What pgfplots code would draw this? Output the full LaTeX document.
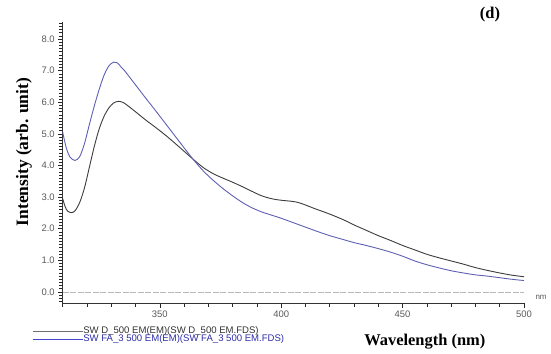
\documentclass[border=0pt]{standalone}
\usepackage{fontspec}
\setmainfont{Liberation Serif}
\setsansfont{Liberation Sans}
\usepackage{pgfplots}
\pgfplotsset{compat=1.18}
\definecolor{curveK}{RGB}{60,60,60}
\definecolor{curveB}{RGB}{95,95,180}
\definecolor{legK}{RGB}{110,110,110}
\definecolor{legB}{RGB}{70,70,210}
\definecolor{txtK}{RGB}{50,50,50}
\definecolor{txtB}{RGB}{45,45,170}
\begin{document}
\begin{tikzpicture}
\useasboundingbox (-62.7bp,-50.7bp) rectangle (488.3bp,303.3bp);
\begin{axis}[
  scale only axis, width=461.3bp, height=281.3bp,
  xmin=310, xmax=500, ymin=-0.36, ymax=8.54,
  axis lines*=left,
  axis line style={color=black!80, line width=0.6bp},
  clip=false,
  xtick={350,400,450,500}, minor xtick={310,320,...,500},
  ytick={0,1,...,8}, minor ytick={-0.3,-0.2,...,8.5},
  tick align=outside,
  major tick length=4.5bp, minor tick length=3.5bp,
  tick style={color=black!85, line width=0.6bp},
  /pgf/number format/assume math mode=true,
  ticklabel style={font=\sffamily\fontsize{9.5}{10}\selectfont, text=black!65},
  yticklabel style={/pgf/number format/fixed, /pgf/number format/fixed zerofill, /pgf/number format/precision=1},
  xticklabel style={/pgf/number format/1000 sep={}},
  xlabel={Wavelength (nm)},
  ylabel={Intensity (arb. unit)},
  xlabel style={at={(axis description cs:0.785,-0.1365)}, anchor=center, font=\bfseries\fontsize{16.5}{18}\selectfont},
  ylabel style={at={(axis description cs:-0.0839,0.538)}, anchor=center, font=\bfseries\fontsize{17.5}{19}\selectfont},
  legend style={draw=none, fill=none, at={(-0.0666,-0.0825)}, anchor=north west,
    font=\sffamily\fontsize{9.6}{10}\selectfont, inner sep=0pt, row sep=0pt,
    nodes={inner sep=0pt, text height=6.5bp, text depth=2.2bp}},
  legend cell align=left,
  /tikz/every even column/.append style={column sep=0pt},
  legend image code/.code={\draw[#1] (0bp,0bp) -- (50bp,0bp);},
]
\addplot[gray!55, line width=0.7bp, dash pattern=on 6bp off 1.5bp, forget plot] coordinates {(310,0) (500,0)};
\addplot[curveK, line width=0.9bp, smooth, forget plot] coordinates {
(310,2.95) (311,2.70) (312,2.56) (313.5,2.51) (315,2.56) (317,2.83) (319,3.30) (321,3.95) (323,4.60)
(325,5.15) (327,5.55) (329,5.82) (331,5.98) (333,6.03) (335,5.99) (337,5.88) (340,5.70) (344,5.45)
(348,5.22) (352,4.98) (356,4.72) (360,4.45) (364,4.18) (368,3.93) (372,3.74) (376,3.60) (380,3.47)
(384,3.33) (388,3.18) (392,3.04) (396,2.95) (400,2.90) (404,2.87) (407,2.83) (410,2.75) (414,2.63)
(418,2.52) (422,2.40) (426,2.27) (430,2.12) (435,1.95) (440,1.78) (445,1.63) (450,1.47) (455,1.33)
(460,1.19) (465,1.08) (470,0.98) (475,0.88) (480,0.77) (485,0.68) (490,0.60) (495,0.53) (500,0.48)};
\addplot[curveB, line width=0.9bp, smooth, forget plot] coordinates {
(310,5.05) (311.5,4.55) (313,4.27) (315,4.16) (317,4.28) (319,4.70) (321,5.30) (323,5.88) (325,6.40)
(327,6.85) (329,7.15) (331,7.27) (332.5,7.25) (334,7.12) (335.5,7.00) (337,6.85) (340,6.55) (344,6.15)
(348,5.76) (352,5.36) (356,4.96) (360,4.56) (364,4.17) (368,3.82) (372,3.53) (376,3.27) (380,3.04)
(384,2.83) (388,2.66) (392,2.53) (396,2.43) (400,2.33) (405,2.19) (410,2.05) (415,1.91) (420,1.78)
(425,1.67) (430,1.56) (435,1.47) (440,1.37) (445,1.26) (450,1.13) (455,0.98) (460,0.86) (465,0.76)
(470,0.67) (475,0.60) (480,0.54) (485,0.50) (490,0.45) (495,0.40) (500,0.36)};
\addlegendimage{draw=legK, line width=0.8bp}
\addlegendentry{\textcolor{txtK}{SW D\_500 EM(EM)(SW D\_500 EM.FDS)}}
\addlegendimage{draw=legB, line width=1.1bp}
\addlegendentry{\textcolor{txtB}{SW FA\_3 500 EM(EM)(SW FA\_3 500 EM.FDS)}}
\node[font=\bfseries\fontsize{16.5}{18}\selectfont] at (rel axis cs:0.9263,1.025) {(d)};
\node[font=\sffamily\fontsize{8}{9}\selectfont, text=black!65] at (rel axis cs:1.037,0.0224) {nm};
\end{axis}
\end{tikzpicture}
\end{document}
